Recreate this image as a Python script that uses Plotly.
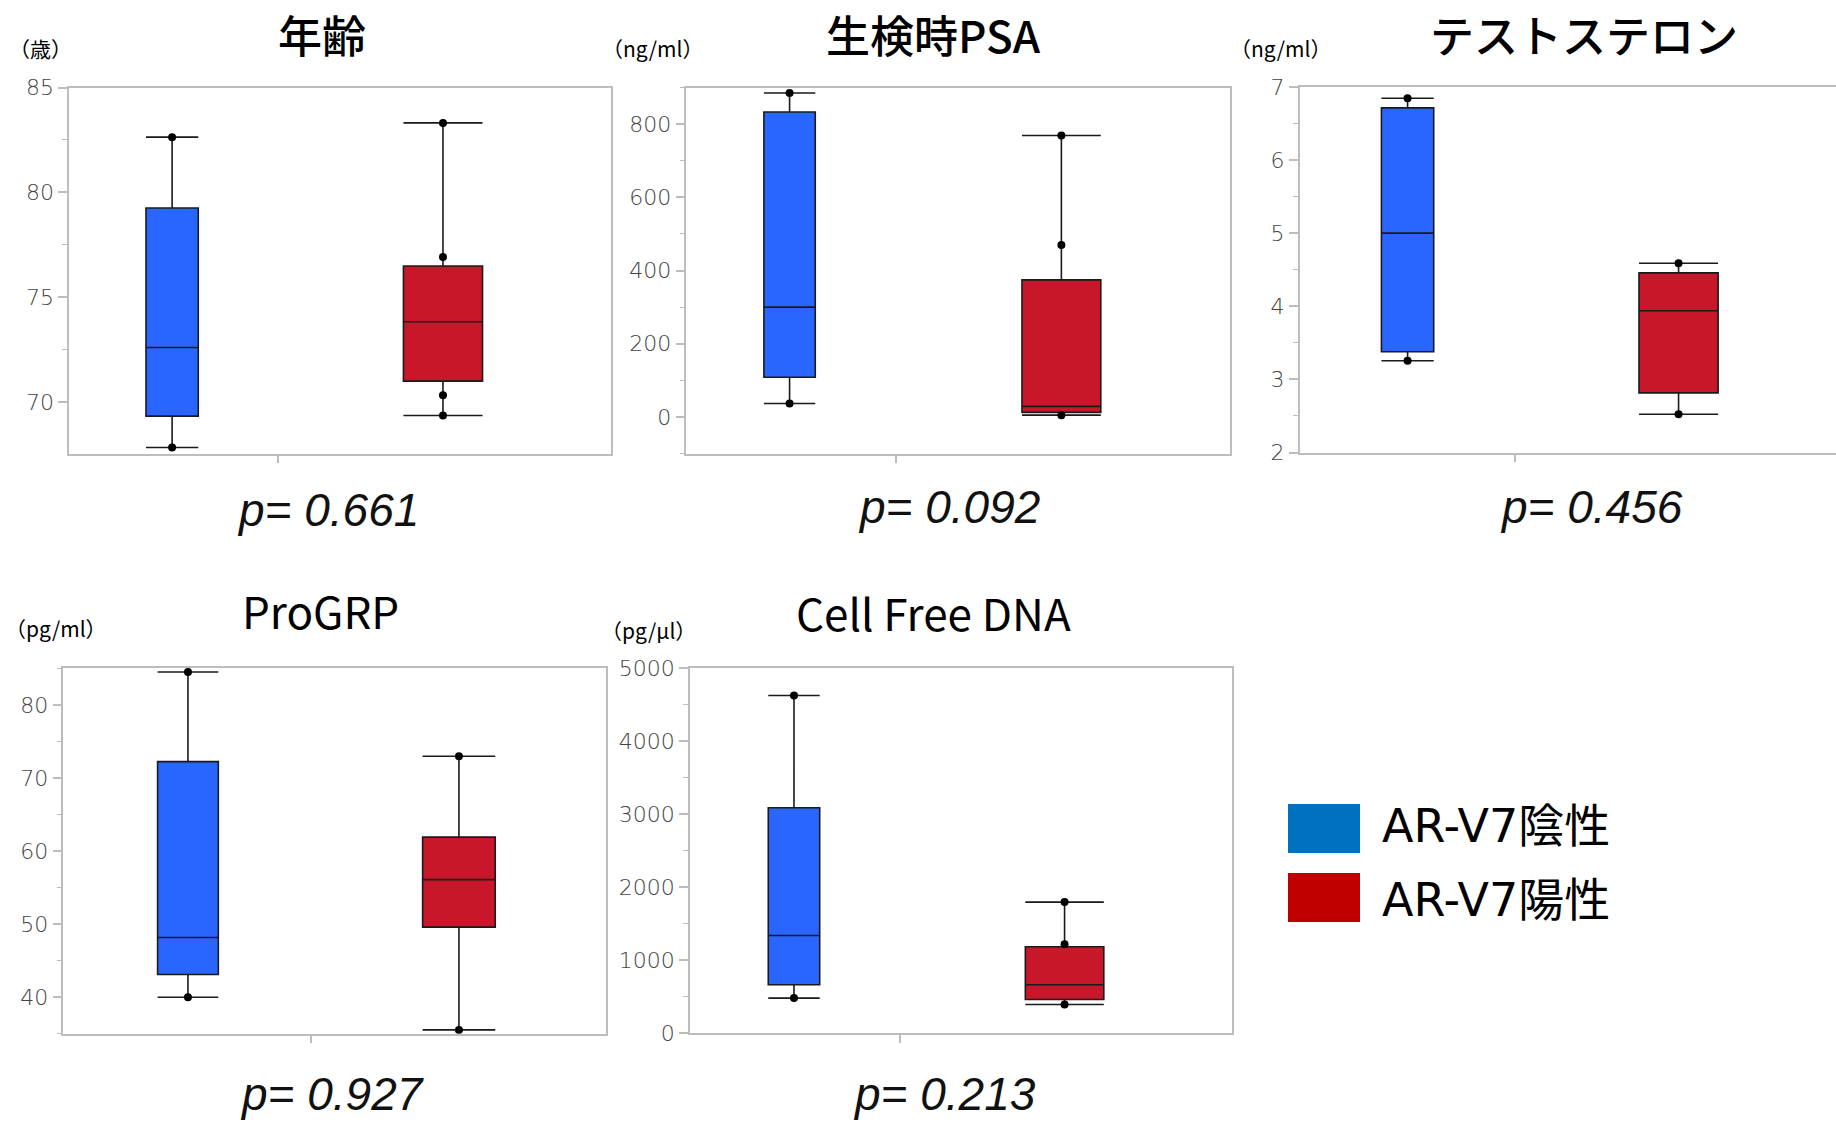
import plotly.graph_objects as go

# ---------------- data ----------------
titles = ["年齢", "生検時PSA", "テストステロン", "ProGRP", "Cell Free DNA"]
units = ["（歳）", "（ng/ml）", "（ng/ml）", "（pg/ml）", "（pg/μl）"]
p_values = ["0.661", "0.092", "0.456", "0.927", "0.213"]
groups = ["AR-V7陰性", "AR-V7陽性"]

neg_low = [67.82, 37, 3.255, 40.0, 478]
neg_q1 = [69.32, 108.6, 3.377, 43.10, 660]
neg_median = [72.59, 300, 5.0, 48.18, 1335]
neg_q3 = [79.25, 833, 6.712, 72.27, 3084]
neg_high = [82.63, 885, 6.844, 84.53, 4621]
neg_points = [[82.63, 67.82], [885, 37], [6.844, 3.255], [84.53, 40.0], [4621, 478]]

pos_low = [69.35, 5, 2.522, 35.52, 390]
pos_q1 = [70.99, 12.7, 2.815, 49.6, 458]
pos_median = [73.82, 29, 3.938, 56.1, 660]
pos_q3 = [76.48, 374.6, 4.456, 61.92, 1182]
pos_high = [83.31, 769, 4.588, 73.0, 1793]
pos_points = [[83.31, 76.91, 70.32, 69.35], [769, 470, 5], [4.588, 2.522], [73.0, 35.52], [1793, 1217, 390]]

# ---------------- layout constants ----------------
W, H = 1836, 1124
x_px = [(69.2, 610.9), (686.3, 1229.9), (1299.6, 1836), (63.3, 605.8), (689.8, 1231.8)]
y_px = [(87.5, 453.6), (87.5, 453.6), (86.8, 452.5), (667.9, 1033.7), (667.9, 1033)]
x_ranges = [(0.62, 2.62), (0.62, 2.62), (0.6015, 2.581), (0.540, 2.542), (0.615, 2.618)]
x_tick = [1.39, 1.39, 1.397, 1.455, 1.39]
y_ranges = [(67.53, 85), (-100, 900), (2, 7), (35, 85.1), (0, 5000)]
y_dtick = [5, 200, 1, 10, 1000]
y_minor = [2.5, 100, 0.5, 5, 500]
neg_width = [0.193, 0.189, 0.193, 0.224, 0.19]
pos_width = [0.292, 0.29, 0.292, 0.268, 0.29]
title_pos = [(322, 34), (933, 34), (1584, 34), (320, 610), (933, 612)]
title_weight = [500, 500, 500, 400, 400]
unit_pos = [(40, 48), (652, 48), (1280, 48), (56, 628), (648, 630)]
p_pos = [(328, 510), (949, 507), (1591, 507), (332, 1094), (945, 1094)]

BLUE_FILL = "#2966FF"
RED_FILL = "#C8172A"
LEG_BLUE = "#0070C0"
LEG_RED = "#C00000"
FRAME = "#BDBDBD"
JP = "Noto Sans CJK JP"
WIDE = "DejaVu Sans, Noto Sans CJK JP"

fig = go.Figure()

for i in range(5):
    ax = "" if i == 0 else str(i + 1)
    xref, yref = "x" + ax, "y" + ax
    for xpos, low, q1, med, q3, high, pts, fill, wd in [
        (1, neg_low[i], neg_q1[i], neg_median[i], neg_q3[i], neg_high[i], neg_points[i], BLUE_FILL, neg_width[i]),
        (2, pos_low[i], pos_q1[i], pos_median[i], pos_q3[i], pos_high[i], pos_points[i], RED_FILL, pos_width[i]),
    ]:
        fig.add_trace(go.Box(
            x=[xpos], q1=[q1], median=[med], q3=[q3], lowerfence=[low], upperfence=[high],
            width=wd, whiskerwidth=1, fillcolor=fill,
            line=dict(color="#1a1a1a", width=1.6),
            boxpoints=False, showlegend=False, xaxis=xref, yaxis=yref,
        ))
        fig.add_trace(go.Scatter(
            x=[xpos] * len(pts), y=pts, mode="markers",
            marker=dict(color="black", size=8), showlegend=False,
            xaxis=xref, yaxis=yref,
        ))

layout = dict(
    template="none",
    width=W, height=H, margin=dict(l=0, r=0, t=0, b=0, autoexpand=False),
    paper_bgcolor="white", plot_bgcolor="white", boxmode="overlay",
    showlegend=False,
)

for i in range(5):
    ax = "" if i == 0 else str(i + 1)
    x0, x1 = x_px[i]
    y0, y1 = y_px[i]
    layout["xaxis" + ax] = dict(
        domain=[x0 / W, x1 / W], range=list(x_ranges[i]), automargin=False,
        anchor="y" + ax, showgrid=False, zeroline=False,
        showline=True, linecolor=FRAME, linewidth=1.5, mirror=True,
        tickvals=[x_tick[i]], ticktext=[""], ticks="outside",
        ticklen=8, tickcolor=FRAME, tickwidth=1.5, fixedrange=True,
    )
    layout["yaxis" + ax] = dict(
        domain=[1 - y1 / H, 1 - y0 / H], range=list(y_ranges[i]), automargin=False,
        anchor="x" + ax, showgrid=False, zeroline=False,
        showline=True, linecolor=FRAME, linewidth=1.5, mirror=(i != 2),
        tick0=0, dtick=y_dtick[i], ticks="outside", ticklen=9,
        tickcolor=FRAME, tickwidth=1.5,
        minor=dict(dtick=y_minor[i], tick0=0, ticks="outside", ticklen=5,
                   tickcolor=FRAME, tickwidth=1.2, showgrid=False),
        tickfont=dict(family="DejaVu Sans", size=22, color="#444444", weight=200),
        fixedrange=True,
    )

annotations = []
for i in range(5):
    tx, ty = title_pos[i]
    annotations.append(dict(
        text=titles[i], x=tx / W, y=1 - ty / H, xref="paper", yref="paper",
        xanchor="center", yanchor="middle", showarrow=False,
        font=dict(family=JP, size=44, color="black", weight=title_weight[i]),
    ))
    ux, uy = unit_pos[i]
    annotations.append(dict(
        text=units[i], x=ux / W, y=1 - uy / H, xref="paper", yref="paper",
        xanchor="center", yanchor="middle", showarrow=False,
        font=dict(family=JP, size=21, color="black"),
    ))
    px_, py_ = p_pos[i]
    annotations.append(dict(
        text="<i>p= " + p_values[i] + "</i>", x=px_ / W, y=1 - py_ / H,
        xref="paper", yref="paper", xanchor="center", yanchor="middle",
        showarrow=False,
        font=dict(family="Liberation Sans", size=46, color="#111111"),
    ))

# legend (custom, large swatches)
leg_rects = [(1288, 804, 1360, 853), (1288, 873, 1360, 922)]
leg_text_y = [826, 900]
leg_colors = [LEG_BLUE, LEG_RED]
shapes = []
for k in range(2):
    a, b, c, d = leg_rects[k]
    shapes.append(dict(type="rect", xref="paper", yref="paper",
                       x0=a / W, x1=c / W, y0=1 - d / H, y1=1 - b / H,
                       fillcolor=leg_colors[k], line=dict(width=0)))
    annotations.append(dict(
        text=groups[k], x=1380 / W, y=1 - leg_text_y[k] / H, xref="paper", yref="paper",
        xanchor="left", yanchor="middle", showarrow=False,
        font=dict(family=WIDE, size=46, color="black"),
    ))

layout["annotations"] = annotations
layout["shapes"] = shapes
fig.update_layout(**layout)

fig.write_html(
    "out.html",
    config={"displayModeBar": False},
    post_script="document.body.style.margin='0';document.body.style.overflow='hidden';",
)
